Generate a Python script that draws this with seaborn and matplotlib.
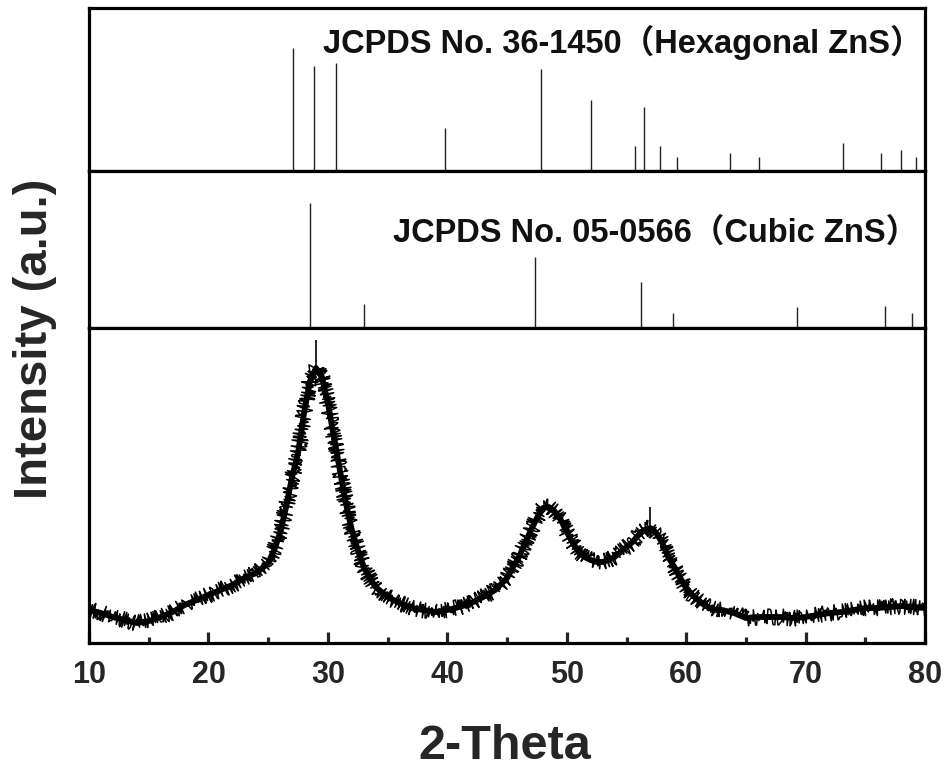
import pandas as pd
import seaborn as sns
from matplotlib import pyplot as plt
from matplotlib.ticker import MultipleLocator

# JCPDS stick patterns (relative intensity)
hex_pos = [27.1, 28.8, 30.7, 39.8, 47.8, 52.0, 55.7, 56.5, 57.8, 59.2,
           63.7, 66.1, 73.1, 76.3, 78.0, 79.2]
hex_int = [100, 85, 88, 35, 83, 58, 20, 52, 20, 11, 15, 11, 23, 15, 17, 11]
cub_pos = [28.5, 33.05, 47.35, 56.2, 58.9, 69.3, 76.6, 78.9]
cub_int = [100, 19, 57, 37, 12, 17, 18, 12]

two_theta = [10, 11, 12, 13, 14, 15, 16, 17, 18, 19, 20, 21, 22, 23, 24, 25,
             25.5, 26, 26.5, 27, 27.5, 28, 28.5, 29, 29.5, 30, 30.5, 31, 31.5,
             32, 32.5, 33, 33.5, 34, 35, 36, 37, 38, 39, 40, 41, 42, 43, 44,
             45, 45.5, 46, 46.5, 47, 47.5, 48, 48.5, 49, 49.5, 50, 50.5, 51,
             51.5, 52, 52.5, 53, 53.5, 54, 54.5, 55, 55.5, 56, 56.5, 57, 57.5,
             58, 58.5, 59, 59.5, 60, 60.5, 61, 61.5, 62, 62.5, 63, 64, 65, 66,
             67, 68, 69, 70, 71, 72, 73, 74, 75, 76, 77, 78, 79, 80]
intensity = [33, 30, 26, 23, 20, 22, 26, 31, 38, 43, 48, 53, 58, 65, 70, 80,
             93, 110, 136, 166, 190, 230, 262, 275, 266, 240, 206, 173, 140,
             113, 93, 76, 65, 56, 46, 40, 35, 33, 31, 33, 36, 40, 46, 53,
             65, 76, 86, 100, 113, 125, 135, 136, 131, 123, 111, 100, 91,
             86, 83, 81, 81, 83, 86, 91, 96, 101, 108, 113, 115, 110,
             100, 86, 76, 65, 55, 48, 43, 38, 35, 33, 33, 30, 25, 26,
             26, 26, 25, 26, 28, 30, 31, 33, 35, 35, 36, 37, 36, 35]
spike_pos = [29.0, 57.0]
spike_low = [275, 115]
spike_high = [303, 136]

xrd = pd.DataFrame({"two_theta": two_theta, "intensity": intensity})

sns.set_style("white")
plt.rcParams["font.family"] = ["Liberation Sans", "Noto Sans CJK SC", "DejaVu Sans"]
plt.rcParams["font.weight"] = "bold"

fig = plt.figure(figsize=(9.48, 7.78), dpi=100)
left, width = 0.0939, 0.882
ax_hex = fig.add_axes([left, 0.7802, width, 0.2095])
ax_cub = fig.add_axes([left, 0.5784, width, 0.2018])
ax_xrd = fig.add_axes([left, 0.1735, width, 0.4049])

for ax in (ax_hex, ax_cub, ax_xrd):
    ax.set_xlim(10, 80)
    for sp in ax.spines.values():
        sp.set_linewidth(2.3)
        sp.set_color("black")
    ax.set_yticks([])
    ax.set_ylabel("")

# stick patterns
ax_hex.vlines(hex_pos, 0, hex_int, color="#222222", linewidth=1.0)
ax_hex.set_ylim(0, 132.5)
ax_hex.set_xticks([])
ax_hex.text(79.8, 0.79, "JCPDS No. 36-1450（Hexagonal ZnS）",
            transform=ax_hex.get_xaxis_transform(), ha="right", va="center",
            fontsize=23.5, fontweight="bold", color="#111111")

ax_cub.vlines(cub_pos, 0, cub_int, color="#222222", linewidth=1.0)
ax_cub.set_ylim(0, 126)
ax_cub.set_xticks([])
ax_cub.text(79.4, 0.605, "JCPDS No. 05-0566（Cubic ZnS）",
            transform=ax_cub.get_xaxis_transform(), ha="right", va="center",
            fontsize=23.5, fontweight="bold", color="#111111")

# measured pattern
sns.lineplot(data=xrd, x="two_theta", y="intensity", ax=ax_xrd,
             color="black", linewidth=4.2)
sns.lineplot(data=xrd, x="two_theta", y="intensity", ax=ax_xrd,
             color="black", linewidth=1.1)
ax_xrd.lines[-1].set_sketch_params(scale=8, length=1.2, randomness=3)
ax_xrd.vlines(spike_pos, spike_low, spike_high, color="black", linewidth=1.2)
ax_xrd.set_ylim(0, 315)
ax_xrd.set_yticks([])
ax_xrd.set_xlabel("")
ax_xrd.set_ylabel("")
ax_xrd.xaxis.set_major_locator(MultipleLocator(10))
ax_xrd.xaxis.set_minor_locator(MultipleLocator(5))
ax_xrd.tick_params(axis="x", which="major", direction="in", length=8,
                   width=2.3, bottom=True, pad=12, labelsize=22)
ax_xrd.tick_params(axis="x", which="minor", direction="in", length=4.5,
                   width=2.3, bottom=True)
for lab in ax_xrd.get_xticklabels():
    lab.set_fontweight("bold")

fig.text(0.5327, 0.040, "2-Theta", ha="center", va="center",
         fontsize=35, fontweight="bold")
fig.text(0.037, 0.565, "Intensity (a.u.)", ha="center", va="center",
         rotation=90, fontsize=34, fontweight="bold")

fig.savefig("out.png", dpi=100)
